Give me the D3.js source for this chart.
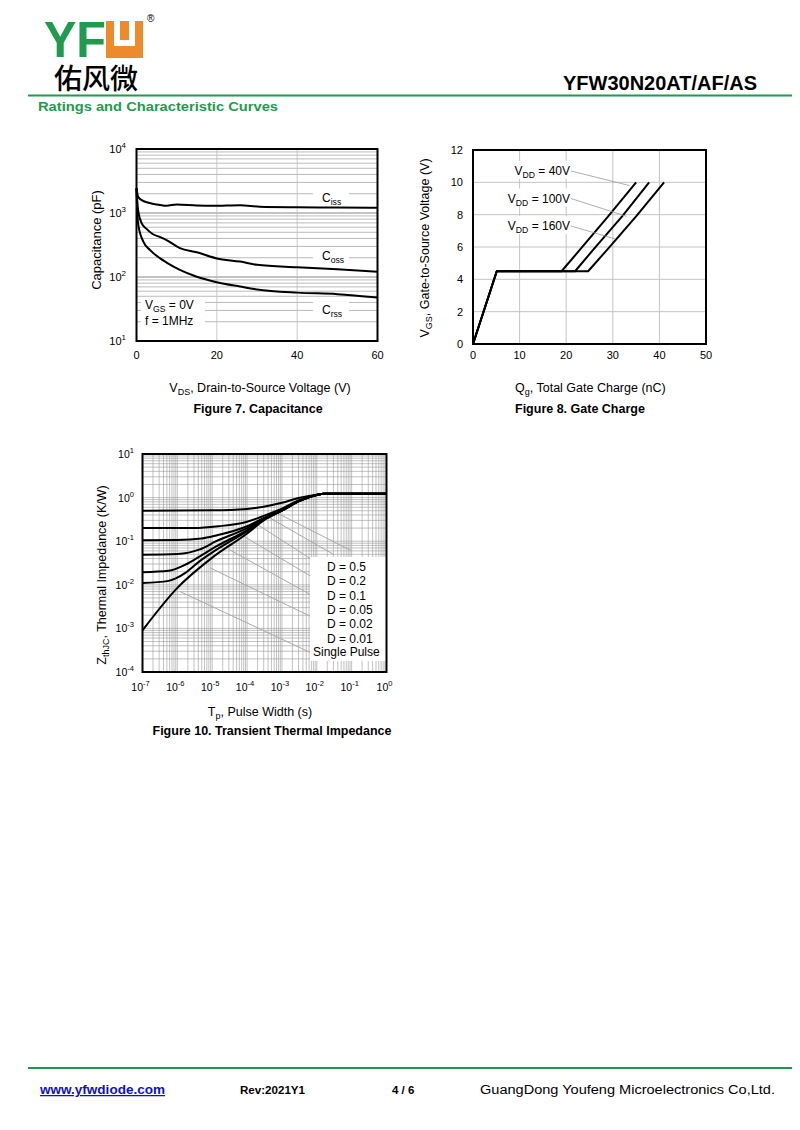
<!DOCTYPE html>
<html><head><meta charset="utf-8">
<script src="https://cdn.jsdelivr.net/npm/d3@7"></script>
<style>body{margin:0;background:#fff}svg{display:block;font-family:"Liberation Sans",Arial,sans-serif}</style>
</head><body><svg id="c" width="800" height="1130"></svg>
<script>
// ---------- DATA ----------
// Figure 7: capacitance vs VDS
const cissData = [[0,2430],[0.4,1800],[1.3,1590],[3,1450],[5.9,1334],[7.5,1300],[10,1360],[15,1310],[19,1295],[25.8,1325],[30.7,1254],[40,1230],[50,1220],[60,1211]];
const cossData = [[0,2430],[0.2,1500],[0.45,1050],[1.3,690],[2.5,565],[4,470],[5.9,420],[7.5,378],[10.8,282],[15,243],[20,195],[25.8,174],[30,155],[40,142],[50,132],[60,121]];
const crssData = [[0,2430],[0.15,1200],[0.45,650],[1.7,357],[3.4,263],[5.9,195],[7.5,168],[10.8,129],[15,101],[20,83],[25.8,71],[30,64],[40,57],[50,54],[60,48]];
const capXTicks = [0,20,40,60];
const capYTicks = [10,100,1000,10000];
const capYExp = ["1","2","3","4"];

// Figure 8: gate charge
const gc40 = [[0,0],[5.1,4.5],[19,4.5],[23,5.85],[29,7.9],[35,10]];
const gc100 = [[0,0],[5.1,4.5],[21.9,4.5],[26,5.9],[32,7.9],[37.8,10]];
const gc160 = [[0,0],[5.1,4.5],[24.7,4.5],[29,5.9],[35,7.9],[41,10]];
const gcLabels = ["40V","100V","160V"];
const gcLabelTargets = [[33.6,9.8],[32.9,7.9],[30.5,6.5]];
const gcXTicks = [0,10,20,30,40,50];
const gcYTicks = [0,2,4,6,8,10,12];

// Figure 10: transient thermal impedance
const zSingle = [[1e-7,9e-4],[1e-6,8.5e-3],[1e-5,0.042],[1e-4,0.15],[3e-4,0.3],[1e-3,0.5],[3e-3,0.82],[1e-2,1.15],[1.6e-2,1.22],[1,1.22]];
const zD05 = [[1e-7,0.5],[1e-5,0.51],[1e-4,0.55],[3e-4,0.62],[1e-3,0.76],[3e-3,0.98],[1e-2,1.17],[1.6e-2,1.22],[1,1.22]];
const zD02 = [[1e-7,0.2],[3e-6,0.2],[1.5e-5,0.22],[1e-4,0.28],[3e-4,0.38],[1e-3,0.56],[3e-3,0.86],[1e-2,1.16],[1.6e-2,1.22],[1,1.22]];
const zD01 = [[1e-7,0.105],[1e-6,0.106],[5e-6,0.115],[1.3e-5,0.135],[1e-4,0.22],[3e-4,0.34],[1e-3,0.53],[3e-3,0.84],[1e-2,1.15],[1.6e-2,1.22],[1,1.22]];
const zD005 = [[1e-7,0.049],[1e-6,0.051],[4.4e-6,0.065],[1.3e-5,0.1],[1e-4,0.2],[3e-4,0.33],[1e-3,0.51],[3e-3,0.83],[1e-2,1.15],[1.6e-2,1.22],[1,1.22]];
const zD002 = [[1e-7,0.0195],[5.6e-7,0.021],[1.7e-6,0.029],[4.4e-6,0.045],[1.3e-5,0.076],[1e-4,0.18],[3e-4,0.32],[1e-3,0.5],[3e-3,0.82],[1e-2,1.15],[1.6e-2,1.22],[1,1.22]];
const zD001 = [[1e-7,0.011],[5.6e-7,0.0123],[9e-7,0.014],[1.7e-6,0.0187],[4.4e-6,0.035],[1.3e-5,0.063],[1e-4,0.17],[3e-4,0.31],[1e-3,0.5],[3e-3,0.82],[1e-2,1.15],[1.6e-2,1.22],[1,1.22]];
const zRefLines = [
  [[1.2e-6,7e-3],[6.5e-3,2.8e-4]],
  [[8.7e-6,0.0245],[6.5e-3,1.9e-3]],
  [[3e-5,0.065],[6.5e-3,6e-3]],
  [[8e-5,0.13],[6.5e-3,0.016]],
  [[2e-4,0.24],[6.5e-3,0.04]],
  [[4e-4,0.36],[3e-2,0.05]],
  [[7e-4,0.45],[1e-1,0.06]]
];
const zLegend = ["D = 0.5","D = 0.2","D = 0.1","D = 0.05","D = 0.02","D = 0.01"];
const zXExp = ["-7","-6","-5","-4","-3","-2","-1","0"];
const zYExp = ["1","0","-1","-2","-3","-4"];

// ---------- DRAW ----------
const svg = d3.select("#c");
const GREEN = "#1f9a4e";

function rich(sel, parts, fs){
  let shift = 0;
  parts.forEach(([t,s])=>{
    const target = s===1 ? 3 : (s===-1 ? -5 : 0);
    const ts = sel.append("tspan").attr("dy", target-shift).text(t);
    if(s) ts.attr("font-size", fs*0.72);
    shift = target;
  });
}
function powLabel(g, x, y, exp, anchor, fs){
  const t = g.append("text").attr("x",x).attr("y",y).attr("font-size",fs).attr("text-anchor",anchor);
  rich(t, [["10",0],[exp,-1]], fs);
  return t;
}

// Header
const hd = svg.append("g");
hd.append("text").attr("x",44).attr("y",57).attr("font-size",46).attr("font-weight","bold")
  .attr("fill",GREEN).attr("textLength",62).attr("lengthAdjust","spacingAndGlyphs")
  .attr("transform","translate(0,-5.7) scale(1,1.1)").text("YF");
// stylised U block
hd.append("path").attr("fill","#ec8a2c")
  .attr("d","M106,21 h37 v37 h-37 Z M114,21 v25 h21 v-25 h-6 v19 h-9 v-19 Z").attr("fill-rule","evenodd");
hd.append("text").attr("x",147).attr("y",22).attr("font-size",10).text("®");
hd.append("text").attr("x",54).attr("y",89).attr("font-size",28).attr("font-family","'Noto Sans CJK SC'")
  .attr("font-weight","500").text("佑风微");
hd.append("text").attr("x",757).attr("y",90).attr("font-size",20).attr("font-weight","bold")
  .attr("text-anchor","end").attr("textLength",194).attr("lengthAdjust","spacingAndGlyphs").text("YFW30N20AT/AF/AS");
hd.append("rect").attr("x",28).attr("y",94.5).attr("width",764).attr("height",2).attr("fill",GREEN);
hd.append("text").attr("x",38).attr("y",111).attr("font-size",13.5).attr("font-weight","bold").attr("fill",GREEN)
  .attr("textLength",240).attr("lengthAdjust","spacingAndGlyphs").text("Ratings and Characteristic Curves");

// Footer
const ft = svg.append("g");
ft.append("rect").attr("x",28).attr("y",1067).attr("width",764).attr("height",2).attr("fill",GREEN);
ft.append("text").attr("x",40).attr("y",1094).attr("font-size",12.5).attr("font-weight","bold").attr("fill","#1010c8")
  .attr("text-decoration","underline").attr("textLength",125).attr("lengthAdjust","spacingAndGlyphs").text("www.yfwdiode.com");
ft.append("text").attr("x",240).attr("y",1094).attr("font-size",11.5).attr("font-weight","bold")
  .attr("textLength",65).attr("lengthAdjust","spacingAndGlyphs").text("Rev:2021Y1");
ft.append("text").attr("x",392).attr("y",1094).attr("font-size",11.5).attr("font-weight","bold").text("4 / 6");
ft.append("text").attr("x",480).attr("y",1094).attr("font-size",12.5)
  .attr("textLength",295).attr("lengthAdjust","spacingAndGlyphs").text("GuangDong Youfeng Microelectronics Co,Ltd.");

// ---------- Figure 7 ----------
(function(){
  const x = d3.scaleLinear().domain([0,60]).range([136.5,377.5]);
  const y = d3.scaleLog().domain([10,10000]).range([341,149]);
  const g = svg.append("g");
  const minors = [];
  [10,100,1000].forEach(d=>{ for(let m=2;m<=9;m++) minors.push(m*d); });
  g.selectAll(".hm").data(minors).join("line").attr("x1",x(0)).attr("x2",x(60))
    .attr("y1",d=>y(d)).attr("y2",d=>y(d)).attr("stroke","#aaa").attr("stroke-width",0.8);
  g.selectAll(".hM").data([100,1000]).join("line").attr("x1",x(0)).attr("x2",x(60))
    .attr("y1",d=>y(d)).attr("y2",d=>y(d)).attr("stroke","#888").attr("stroke-width",1);
  g.selectAll(".vM").data([20,40]).join("line").attr("y1",y(10)).attr("y2",y(10000))
    .attr("x1",d=>x(d)).attr("x2",d=>x(d)).attr("stroke","#bbb").attr("stroke-width",0.8);
  const bg = [[313,188,36,18],[313,248,36,18],[313,302,36,18],[141,298,64,31]];
  g.selectAll(".bg").data(bg).join("rect").attr("x",d=>d[0]).attr("y",d=>d[1]).attr("width",d=>d[2]).attr("height",d=>d[3]).attr("fill","#fff");
  const line = d3.line().x(d=>x(d[0])).y(d=>y(d[1])).curve(d3.curveMonotoneX);
  g.selectAll(".cv").data([cissData,cossData,crssData]).join("path").attr("d",line)
    .attr("fill","none").attr("stroke","#000").attr("stroke-width",2);
  g.append("rect").attr("x",x(0)).attr("y",y(10000)).attr("width",x(60)-x(0)).attr("height",y(10)-y(10000))
    .attr("fill","none").attr("stroke","#000").attr("stroke-width",2);
  g.selectAll(".xt").data(capXTicks).join("text").attr("x",d=>x(d)).attr("y",359).attr("font-size",11)
    .attr("text-anchor","middle").text(d=>d);
  capYTicks.forEach((v,i)=>powLabel(g,126,y(v)+4,capYExp[i],"end",11));
  [["C","iss",201.5],["C","oss",260],["C","rss",313.5]].forEach(([a,b,yy])=>{
    const t = g.append("text").attr("x",322).attr("y",yy).attr("font-size",12);
    rich(t,[[a,0],[b,1]],12);
  });
  const t1 = g.append("text").attr("x",145).attr("y",309).attr("font-size",12);
  rich(t1,[["V",0],["GS",1],[" = 0V",0]],12);
  g.append("text").attr("x",145).attr("y",325).attr("font-size",12).text("f = 1MHz");
  g.append("text").attr("transform","translate(101,240) rotate(-90)").attr("text-anchor","middle")
    .attr("font-size",13).text("Capacitance (pF)");
  const xt = g.append("text").attr("x",260).attr("y",392).attr("text-anchor","middle").attr("font-size",12.5);
  rich(xt,[["V",0],["DS",1],[", Drain-to-Source Voltage (V)",0]],12.5);
  g.append("text").attr("x",258).attr("y",413).attr("text-anchor","middle").attr("font-size",12.5)
    .attr("font-weight","bold").text("Figure 7. Capacitance");
})();

// ---------- Figure 8 ----------
(function(){
  const x = d3.scaleLinear().domain([0,50]).range([473,706]);
  const y = d3.scaleLinear().domain([0,12]).range([344,150]);
  const g = svg.append("g");
  g.selectAll(".gy").data([2,4,6,8,10]).join("line").attr("x1",x(0)).attr("x2",x(50))
    .attr("y1",d=>y(d)).attr("y2",d=>y(d)).attr("stroke","#c4c4c4").attr("stroke-width",1);
  g.selectAll(".gx").data([10,20,30,40]).join("line").attr("y1",y(0)).attr("y2",y(12))
    .attr("x1",d=>x(d)).attr("x2",d=>x(d)).attr("stroke","#c4c4c4").attr("stroke-width",1);
  g.selectAll(".bg").data([0,1,2]).join("rect").attr("x",506).attr("y",d=>161+d*27.5).attr("width",66).attr("height",18).attr("fill","#fff");
  const line = d3.line().x(d=>x(d[0])).y(d=>y(d[1]));
  g.selectAll(".cv").data([gc40,gc100,gc160]).join("path").attr("d",line)
    .attr("fill","none").attr("stroke","#000").attr("stroke-width",2).attr("stroke-linejoin","round");
  gcLabels.forEach((lab,i)=>{
    const yy = 175 + i*27.5;
    const t = g.append("text").attr("x",570).attr("y",yy).attr("text-anchor","end").attr("font-size",12);
    rich(t,[["V",0],["DD",1],[" = "+lab,0]],12);
    g.append("line").attr("x1",571).attr("y1",yy-4).attr("x2",x(gcLabelTargets[i][0])).attr("y2",y(gcLabelTargets[i][1]))
      .attr("stroke","#999").attr("stroke-width",0.8);
  });
  g.append("rect").attr("x",x(0)).attr("y",y(12)).attr("width",x(50)-x(0)).attr("height",y(0)-y(12))
    .attr("fill","none").attr("stroke","#000").attr("stroke-width",2);
  g.selectAll(".xt").data(gcXTicks).join("text").attr("x",d=>x(d)).attr("y",359).attr("font-size",11)
    .attr("text-anchor","middle").text(d=>d);
  g.selectAll(".yt").data(gcYTicks).join("text").attr("x",463).attr("y",d=>y(d)+4).attr("font-size",11)
    .attr("text-anchor","end").text(d=>d);
  const yt = g.append("text").attr("transform","translate(429,248) rotate(-90)").attr("text-anchor","middle").attr("font-size",12.5);
  rich(yt,[["V",0],["GS",1],[", Gate-to-Source Voltage (V)",0]],12.5);
  const xt = g.append("text").attr("x",515).attr("y",392).attr("font-size",12.5);
  rich(xt,[["Q",0],["g",1],[", Total Gate Charge (nC)",0]],12.5);
  g.append("text").attr("x",515).attr("y",413).attr("font-size",12.5).attr("font-weight","bold").text("Figure 8. Gate Charge");
})();

// ---------- Figure 10 ----------
(function(){
  const x = d3.scaleLog().domain([1e-7,1]).range([142.5,386.5]);
  const y = d3.scaleLog().domain([1e-4,10]).range([672,454]);
  const g = svg.append("g");
  const xm = [], ym = [];
  for(let e=-7;e<0;e++) for(let m=1;m<=9;m++) xm.push(m*Math.pow(10,e));
  for(let e=-4;e<1;e++) for(let m=1;m<=9;m++) ym.push(m*Math.pow(10,e));
  g.selectAll(".vx").data(xm).join("line").attr("y1",y(1e-4)).attr("y2",y(10))
    .attr("x1",d=>x(d)).attr("x2",d=>x(d)).attr("stroke","#999").attr("stroke-width",0.6);
  g.selectAll(".hy").data(ym).join("line").attr("x1",x(1e-7)).attr("x2",x(1))
    .attr("y1",d=>y(d)).attr("y2",d=>y(d)).attr("stroke","#999").attr("stroke-width",0.6);
  g.selectAll(".rl").data(zRefLines).join("line")
    .attr("x1",d=>x(d[0][0])).attr("y1",d=>y(d[0][1])).attr("x2",d=>x(d[1][0])).attr("y2",d=>y(d[1][1]))
    .attr("stroke","#aaa").attr("stroke-width",1);
  g.append("rect").attr("x",310).attr("y",557).attr("width",x(1)-310).attr("height",104).attr("fill","#fff");
  const line = d3.line().x(d=>x(d[0])).y(d=>y(d[1])).curve(d3.curveMonotoneX);
  g.selectAll(".cv").data([zD05,zD02,zD01,zD005,zD002,zD001,zSingle]).join("path").attr("d",line)
    .attr("fill","none").attr("stroke","#000").attr("stroke-width",2);
  g.append("rect").attr("x",x(1e-7)).attr("y",y(10)).attr("width",x(1)-x(1e-7)).attr("height",y(1e-4)-y(10))
    .attr("fill","none").attr("stroke","#000").attr("stroke-width",2);
  g.selectAll(".lg").data(zLegend).join("text").attr("x",327).attr("y",(d,i)=>571+i*14.3)
    .attr("font-size",12).text(d=>d);
  g.append("text").attr("x",313).attr("y",656).attr("font-size",12).text("Single Pulse");
  zXExp.forEach((e,i)=>powLabel(g,x(Math.pow(10,+e))-2,691,e,"middle",10.5));
  zYExp.forEach((e,i)=>powLabel(g,134,y(Math.pow(10,+e))+4,e,"end",10.5));
  const yt = g.append("text").attr("transform","translate(106,575) rotate(-90)").attr("text-anchor","middle").attr("font-size",12.5);
  rich(yt,[["Z",0],["thJC",1],[", Thermal Impedance (K/W)",0]],12.5);
  const xt = g.append("text").attr("x",260).attr("y",716).attr("text-anchor","middle").attr("font-size",12.5);
  rich(xt,[["T",0],["p",1],[", Pulse Width (s)",0]],12.5);
  g.append("text").attr("x",272).attr("y",735).attr("text-anchor","middle").attr("font-size",12.5)
    .attr("font-weight","bold").text("Figure 10. Transient Thermal Impedance");
})();
</script></body></html>
